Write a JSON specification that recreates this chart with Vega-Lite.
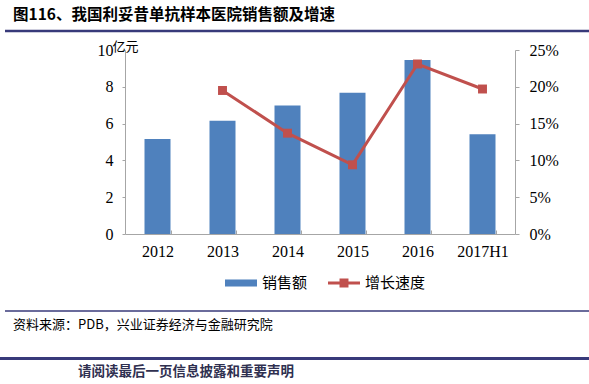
{
  "$schema": "https://vega.github.io/schema/vega-lite/v6.json",
  "width": 390,
  "height": 184,
  "autosize": {"type": "none"},
  "padding": {"left": 125, "top": 50, "right": 74, "bottom": 150},
  "background": "white",
  "config": {
    "view": {"stroke": null},
    "axis": {
      "domainColor": "#a6a6a6",
      "tickColor": "#a6a6a6",
      "labelFont": "Liberation Serif",
      "labelFontSize": 16,
      "labelColor": "#000000",
      "grid": false
    }
  },
  "data": {
    "values": [
      {"year": "2012", "sales": 5.16, "growth": null},
      {"year": "2013", "sales": 6.16, "growth": 0.195},
      {"year": "2014", "sales": 6.99, "growth": 0.137},
      {"year": "2015", "sales": 7.68, "growth": 0.094},
      {"year": "2016", "sales": 9.46, "growth": 0.231},
      {"year": "2017H1", "sales": 5.42, "growth": 0.197}
    ]
  },
  "layer": [
    {
      "mark": {"type": "bar", "color": "#4F81BD"},
      "encoding": {
        "x": {
          "field": "year", "type": "nominal", "sort": null,
          "scale": {"paddingInner": 0.6, "paddingOuter": 0.3},
          "axis": {"title": null, "labelAngle": 0, "tickBand": "extent", "tickSize": -4, "labelPadding": 13}
        },
        "y": {
          "field": "sales", "type": "quantitative",
          "scale": {"domain": [0, 10], "nice": false},
          "axis": {
            "orient": "left", "values": [0, 2, 4, 6, 8, 10], "tickSize": 3, "labelPadding": 9,
            "title": "亿元", "titleAngle": 0, "titleX": -13, "titleY": 0, "titleAlign": "left",
            "titleBaseline": "alphabetic", "titleFont": "Noto Sans CJK SC", "titleFontSize": 13,
            "titleFontWeight": "normal", "titleColor": "#000000"
          }
        },
        "color": {
          "datum": "销售额",
          "scale": {"domain": ["销售额", "增长速度"], "range": ["#4F81BD", "#C0504D"]},
          "legend": {
            "title": null, "orient": "none", "direction": "horizontal",
            "legendX": 100, "legendY": 217, "padding": 0,
            "symbolSize": 1024, "labelFont": "Noto Sans CJK SC", "labelFontSize": 15,
            "labelColor": "#000000", "labelOffset": 5, "columnPadding": 20,
            "encode": {
              "symbols": {
                "update": {
                  "shape": {"signal": "datum.value === '销售额' ? 'M-1,-0.22H1V0.22H-1Z' : 'M-1,-0.09H1V0.09H-1Z M-0.28,-0.28H0.28V0.28H-0.28Z'"},
                  "fill": {"scale": "color", "field": "value"},
                  "stroke": {"value": "transparent"},
                  "strokeWidth": {"value": 0},
                  "opacity": {"value": 1}
                }
              }
            }
          }
        }
      }
    },
    {
      "transform": [{"filter": "isValid(datum.growth)"}],
      "mark": {"type": "line", "strokeWidth": 3, "point": {"shape": "square", "size": 80, "filled": true, "opacity": 1}},
      "encoding": {
        "x": {"field": "year", "type": "nominal", "sort": null},
        "y": {
          "field": "growth", "type": "quantitative",
          "scale": {"domain": [0, 0.25], "nice": false},
          "axis": {"orient": "right", "values": [0, 0.05, 0.1, 0.15, 0.2, 0.25], "format": ".0%", "tickSize": 4, "labelPadding": 10, "title": null}
        },
        "color": {"datum": "增长速度"}
      }
    },
    {
      "data": {"values": [{}]},
      "layer": [
        {
          "mark": {"type": "rule", "color": "#383a7a", "strokeWidth": 2.5},
          "encoding": {"x": {"value": -120}, "x2": {"value": 464}, "y": {"value": -19}}
        },
        {
          "mark": {"type": "rule", "color": "#383a7a", "strokeWidth": 1.7},
          "encoding": {"x": {"value": -120}, "x2": {"value": 464}, "y": {"value": 261}}
        },
        {
          "mark": {"type": "rule", "color": "#383a7a", "strokeWidth": 3},
          "encoding": {"x": {"value": -125}, "x2": {"value": 464}, "y": {"value": 308.5}}
        },
        {
          "mark": {"type": "text", "align": "left", "baseline": "middle", "font": "Noto Sans CJK SC", "fontSize": 15.5, "fontWeight": "bold", "color": "#000000"},
          "encoding": {"x": {"value": -112}, "y": {"value": -35}, "text": {"value": "图116、我国利妥昔单抗样本医院销售额及增速"}}
        },
        {
          "mark": {"type": "text", "align": "left", "baseline": "middle", "font": "Noto Sans CJK SC", "fontSize": 13, "color": "#000000"},
          "encoding": {"x": {"value": -112}, "y": {"value": 275}, "text": {"value": "资料来源：PDB，兴业证券经济与金融研究院"}}
        },
        {
          "mark": {"type": "text", "align": "left", "baseline": "middle", "font": "Noto Sans CJK SC", "fontSize": 13.5, "fontWeight": "bold", "color": "#2f3050"},
          "encoding": {"x": {"value": -47}, "y": {"value": 322}, "text": {"value": "请阅读最后一页信息披露和重要声明"}}
        }
      ]
    }
  ],
  "resolve": {"scale": {"y": "independent"}}
}
